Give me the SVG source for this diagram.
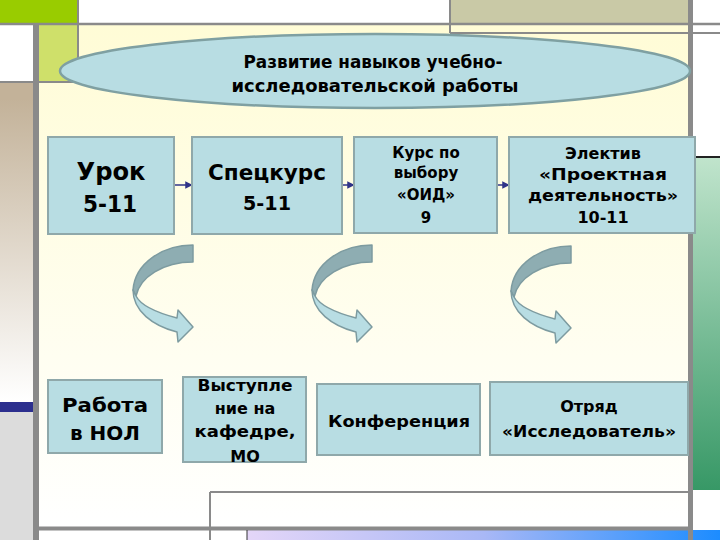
<svg xmlns="http://www.w3.org/2000/svg" width="720" height="540" viewBox="0 0 720 540">
<style>
.ln{stroke:#8a8a8a;fill:none}
.box{fill:#b8dde3;stroke:#8fa8aa;stroke-width:2}
.t{font-family:"DejaVu Sans",sans-serif;font-weight:bold;fill:#000;text-anchor:middle}
.con{stroke:#2f3388;stroke-width:1.5;fill:none}
.dark{fill:#8eadb2;stroke:#7d9ba0;stroke-width:1.5;stroke-linejoin:round}
.light{fill:#b8dde3;stroke:#7d9ba0;stroke-width:1.5;stroke-linejoin:round}
</style>
<defs>
<linearGradient id="gy" x1="0" y1="0" x2="0" y2="1">
<stop offset="0" stop-color="#fffcd6"/><stop offset="1" stop-color="#ffffff"/>
</linearGradient>
<linearGradient id="gb" x1="0" y1="0" x2="0" y2="1">
<stop offset="0.05" stop-color="#c3b299"/><stop offset="1" stop-color="#ffffff"/>
</linearGradient>
<linearGradient id="gg" x1="0" y1="0" x2="0" y2="1">
<stop offset="0" stop-color="#c0e4cc"/><stop offset="1" stop-color="#379866"/>
</linearGradient>
<linearGradient id="gbl" x1="0" y1="0" x2="1" y2="0">
<stop offset="0" stop-color="#e4d6f8"/><stop offset="0.5" stop-color="#a9b8f6"/><stop offset="1" stop-color="#1c8cff"/>
</linearGradient>
<marker id="ah" viewBox="0 0 10 10" refX="9" refY="5" markerWidth="5" markerHeight="5" orient="auto">
<path d="M0,0 L10,5 L0,10 Z" fill="#2f3388"/>
</marker>
<g id="curl">
<path class="dark" d="M60,0 C30,0 2,18 0,45 L3,51 C7,32 30,17 60,17 Z"/>
<path class="light" d="M0,45 C0,66 20,81 44,87 L45,97 L60,82 L45,65 L44,73 C25,68 8,61 3,51 Z"/>
</g>
</defs>

<g id="background">
<rect x="0" y="0" width="720" height="540" fill="#ffffff"/>
<rect x="39" y="25" width="649" height="502" fill="url(#gy)"/>
<rect x="0" y="0" width="78" height="23" fill="#99cc00"/>
<rect x="450" y="0" width="238" height="23" fill="#c9c9a6"/>
<rect x="39" y="25" width="39" height="57" fill="#cfe06a"/>
<rect x="0" y="83" width="33" height="319" fill="url(#gb)"/>
<rect x="0" y="402" width="33" height="10" fill="#2c2f8e"/>
<rect x="0" y="412" width="33" height="128" fill="#dcdcdc"/>
<rect x="693" y="158" width="27" height="332" fill="url(#gg)"/>
<rect x="247" y="530" width="473" height="10" fill="url(#gbl)"/>
<line class="ln" x1="0" y1="24" x2="720" y2="24" stroke-width="2.5"/>
<line class="ln" x1="450" y1="33" x2="720" y2="33" stroke-width="2"/>
<line class="ln" x1="450" y1="0" x2="450" y2="33" stroke-width="2"/>
<line class="ln" x1="78" y1="0" x2="78" y2="82" stroke-width="2"/>
<line class="ln" x1="0" y1="82" x2="78" y2="82" stroke-width="2"/>
<line class="ln" x1="36" y1="23" x2="36" y2="540" stroke-width="6"/>
<line class="ln" x1="690.5" y1="0" x2="690.5" y2="540" stroke-width="5"/>
<line x1="693" y1="157" x2="720" y2="157" stroke="#222" stroke-width="2"/>
<line class="ln" x1="210" y1="492" x2="688" y2="492" stroke-width="2"/>
<line class="ln" x1="210" y1="492" x2="210" y2="540" stroke-width="2"/>
<line class="ln" x1="39" y1="528.5" x2="693" y2="528.5" stroke-width="4"/>
<line x1="247" y1="530" x2="247" y2="540" stroke="#333" stroke-width="1"/>
</g>

<g id="title">
<ellipse cx="375" cy="71" rx="315" ry="37" fill="#b8dde3" stroke="#7fa0a2" stroke-width="2.5"/>
<text class="t" x="373" y="68" font-size="17" textLength="259" lengthAdjust="spacingAndGlyphs">Развитие навыков учебно-</text>
<text class="t" x="375" y="92" font-size="17" textLength="287" lengthAdjust="spacingAndGlyphs">исследовательской работы</text>
</g>

<g id="connectors">
<line class="con" x1="174" y1="185" x2="192" y2="185" marker-end="url(#ah)"/>
<line class="con" x1="343" y1="185" x2="354" y2="185" marker-end="url(#ah)"/>
<line class="con" x1="497" y1="185" x2="509" y2="185" marker-end="url(#ah)"/>
<use href="#curl" x="133" y="245"/>
<use href="#curl" x="312" y="245"/>
<use href="#curl" x="511" y="246"/>
</g>

<g id="n-urok">
<rect class="box" x="48" y="137" width="126" height="97"/>
<text class="t" x="111" y="180" font-size="24" textLength="69" lengthAdjust="spacingAndGlyphs">Урок</text>
<text class="t" x="110" y="212" font-size="23" textLength="54" lengthAdjust="spacingAndGlyphs">5-11</text>
</g>
<g id="n-speckurs">
<rect class="box" x="192" y="137" width="150" height="97"/>
<text class="t" x="267" y="180" font-size="21" textLength="118" lengthAdjust="spacingAndGlyphs">Спецкурс</text>
<text class="t" x="267" y="210" font-size="19" textLength="48" lengthAdjust="spacingAndGlyphs">5-11</text>
</g>
<g id="n-kurs">
<rect class="box" x="354" y="137" width="143" height="96"/>
<text class="t" x="426" y="158" font-size="15">Курс по</text>
<text class="t" x="426" y="178" font-size="15">выбору</text>
<text class="t" x="426" y="200" font-size="15">«ОИД»</text>
<text class="t" x="426" y="223" font-size="15">9</text>
</g>
<g id="n-elektiv">
<rect class="box" x="509" y="137" width="186" height="96"/>
<text class="t" x="603" y="159" font-size="16">Электив</text>
<text class="t" x="603" y="180" font-size="16" textLength="128" lengthAdjust="spacingAndGlyphs">«Проектная</text>
<text class="t" x="603" y="201" font-size="16" textLength="150" lengthAdjust="spacingAndGlyphs">деятельность»</text>
<text class="t" x="603" y="223" font-size="16">10-11</text>
</g>

<g id="n-nol">
<rect class="box" x="48" y="380" width="114" height="73"/>
<text class="t" x="105" y="412" font-size="20" textLength="86" lengthAdjust="spacingAndGlyphs">Работа</text>
<text class="t" x="105" y="440" font-size="20" textLength="70" lengthAdjust="spacingAndGlyphs">в НОЛ</text>
</g>
<g id="n-vystuplenie">
<rect class="box" x="183" y="377" width="123" height="85"/>
<text class="t" x="245" y="391" font-size="16" textLength="95" lengthAdjust="spacingAndGlyphs">Выступле</text>
<text class="t" x="245" y="414" font-size="16">ние на</text>
<text class="t" x="245" y="437" font-size="16" textLength="101" lengthAdjust="spacingAndGlyphs">кафедре,</text>
<text class="t" x="245" y="462" font-size="16">МО</text>
</g>
<g id="n-konf">
<rect class="box" x="317" y="384" width="163" height="71"/>
<text class="t" x="399" y="427" font-size="16" textLength="142" lengthAdjust="spacingAndGlyphs">Конференция</text>
</g>
<g id="n-otryad">
<rect class="box" x="490" y="382" width="198" height="73"/>
<text class="t" x="589" y="412" font-size="16">Отряд</text>
<text class="t" x="589" y="437" font-size="16" textLength="174" lengthAdjust="spacingAndGlyphs">«Исследователь»</text>
</g>
</svg>
